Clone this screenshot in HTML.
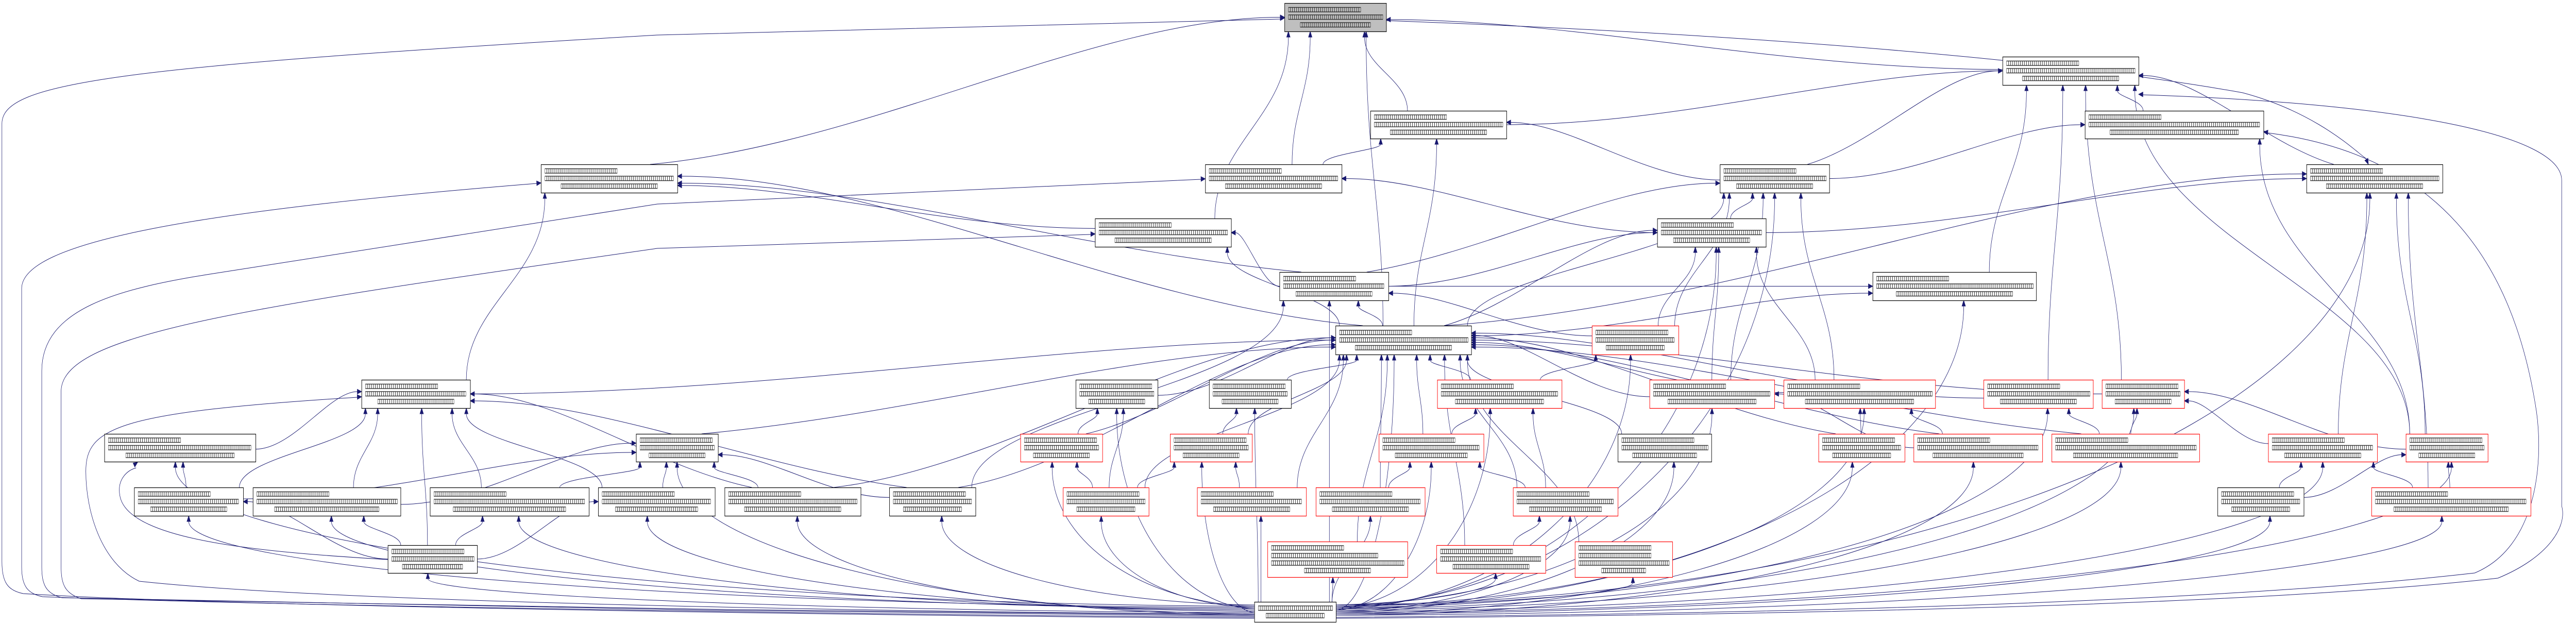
<!DOCTYPE html>
<html><head><meta charset="utf-8">
<style>
html,body{margin:0;padding:0;background:#fff;width:100vw;height:100vh;overflow:hidden;}
svg{display:block;overflow:hidden;width:100vw;height:100vh;}
text{font-family:"DejaVu Sans Mono","Liberation Mono",monospace;font-size:8.6px;fill:#111;stroke:#333;stroke-width:0.25;}
</style></head>
<body>
<svg id="g" viewBox="0 0 6662 1211" preserveAspectRatio="none" xmlns="http://www.w3.org/2000/svg"></svg>
<script>
const N={
Top:[3322,6,3585,61,'g'],AA:[5179,110,5531,165,'b'],W:[3544,215,3896,269,'b'],AB:[5392,215,5854,269,'b'],
A:[1399,319,1752,374,'b'],J:[3117,319,3470,374,'b'],X:[4448,319,4731,374,'b'],AC:[5965,319,6317,374,'b'],
K:[2832,424,3184,479,'b'],Y:[4286,424,4567,479,'b'],L:[3309,528,3591,583,'b'],Z:[4843,528,5266,583,'b'],
Hub:[3454,632,3805,688,'b'],R1:[4117,632,4341,688,'r'],
B:[935,737,1216,792,'b'],M:[2782,737,2994,792,'b'],N:[3127,737,3339,792,'b'],R2:[3717,737,4039,792,'r'],
R3:[4266,737,4589,792,'r'],R4:[4613,737,5005,792,'r'],AD:[5130,737,5413,792,'r'],AE:[5436,737,5649,792,'r'],
C:[270,842,661,896,'b'],I:[1645,842,1857,896,'b'],O:[2639,842,2851,896,'r'],P:[3026,842,3238,896,'r'],
R5:[3566,842,3837,896,'r'],S2:[4184,842,4426,896,'b'],R6:[4703,842,4926,896,'r'],R7:[4949,842,5282,896,'r'],
AF:[5306,842,5688,896,'r'],AG:[5866,842,6148,896,'r'],AH:[6222,842,6434,896,'r'],
D:[347,946,629,1001,'b'],E:[654,946,1036,1001,'b'],F:[1112,946,1523,1001,'b'],G:[1547,946,1849,1001,'b'],
R:[1874,946,2226,1001,'b'],S:[2300,946,2523,1001,'b'],T:[2749,946,2971,1001,'r'],U:[3096,946,3378,1001,'r'],
R9:[3403,946,3685,1001,'r'],R10:[3913,946,4184,1001,'r'],AI:[5735,946,5958,1001,'b'],AJ:[6133,946,6545,1001,'r'],
H:[1003,1058,1234,1112,'b'],V:[3278,1051,3640,1120,'r'],R12:[3715,1058,3997,1112,'r'],R13:[4073,1051,4325,1120,'r'],
BOT:[3244,1168,3455,1207,'b']
};
const NS="http://www.w3.org/2000/svg";
const svg=document.getElementById('g');
const gE=document.createElementNS(NS,'g');svg.appendChild(gE);
const gN=document.createElementNS(NS,'g');svg.appendChild(gN);
const COL="#191970";
function el(t,a,p){const e=document.createElementNS(NS,t);for(const k in a)e.setAttribute(k,a[k]);(p||gE).appendChild(e);return e;}
function clamp(v,a,b){return Math.max(a,Math.min(b,v));}
function P(n){n=N[n];return{x1:n[0],y1:n[1],x2:n[2],y2:n[3],cx:(n[0]+n[2])/2,cy:(n[1]+n[3])/2};}
function arrow(ex,ey,fx,fy){
  let dx=ex-fx,dy=ey-fy;const L=Math.hypot(dx,dy)||1;dx/=L;dy/=L;
  const al=11,aw=4.5;const bx=ex-dx*al,by=ey-dy*al;
  el('polygon',{points:`${ex},${ey} ${bx-dy*aw},${by+dx*aw} ${bx+dy*aw},${by-dx*aw}`,fill:COL,stroke:COL,'stroke-width':1});
  return [bx,by];
}
function curve(sx,sy,c1x,c1y,c2x,c2y,ex,ey){
  const [bx,by]=arrow(ex,ey,c2x,c2y);
  el('path',{d:`M${sx},${sy} C${c1x},${c1y} ${c2x},${c2y} ${bx},${by}`,fill:'none',stroke:COL,'stroke-width':1});
}
const cnt={};
function edge(ci,pi){
  const c=P(ci),p=P(pi);
  const k=(cnt[pi]=(cnt[pi]||0)+1);const off=((k*3)%7-3)*9;
  const gap=Math.max(c.x1-p.x2,p.x1-c.x2);const dy=c.y1-p.y2;
  let sx,sy,ex,ey,c1x,c1y,c2x,c2y;
  if(dy>0&&gap<dy*2.5){
    ex=clamp(p.cx+(c.cx-p.cx)*0.35+off,p.x1+10,p.x2-10);ey=p.y2;
    sx=clamp(c.cx+(p.cx-c.cx)*0.3,c.x1+10,c.x2-10);sy=c.y1;
    const d=sy-ey;c1x=sx;c1y=sy-d*0.4;c2x=ex;c2y=ey+d*0.45;
  }else{
    const left=c.cx<p.cx;
    ex=left?p.x1:p.x2;ey=clamp(p.cy+off*0.5,p.y1+6,p.y2-6);
    if(dy>150){sx=clamp(c.cx+(left?1:-1)*(c.x2-c.x1)*0.3,c.x1+10,c.x2-10);sy=c.y1;}
    else{sx=left?c.x2:c.x1;sy=clamp(c.cy-off*0.3,c.y1+5,c.y2-5);}
    const d=ex-sx;c1x=sx+d*0.35;c1y=sy-(dy>150?40:0);c2x=ex-d*0.3;c2y=ey;
  }
  curve(sx,sy,c1x,c1y,c2x,c2y,ex,ey);
}
let bk=0;
function bot(pi){
  const b=P('BOT'),p=P(pi);bk++;
  const j=(bk%9)*2.5;
  let sx,sy,ex=clamp(p.cx+((bk%5)-2)*12,p.x1+10,p.x2-10),ey=p.y2;
  if(p.x2<b.x1+20){sx=b.x1;sy=1174+j;}
  else if(p.x1>b.x2-20){sx=b.x2;sy=1174+j;}
  else{sx=clamp(ex,b.x1+10,b.x2-10);sy=b.y1;
    const d=sy-ey;curve(sx,sy,sx,sy-d*0.4,ex,ey+d*0.4,ex,ey);return;}
  curve(sx,sy,ex+(sx-ex)*0.45,sy-4,ex,ey+(sy-ey)*0.55,ex,ey);
}
function custom(d,ex,ey,fx,fy){
  arrow(ex,ey,fx,fy);
  el('path',{d:d,fill:'none',stroke:COL,'stroke-width':1});
}
custom("M3244,1200 C2400,1196 600,1178 60,1152 C20,1146 5,1130 5,1090 L5,240 C5,160 300,130 1700,68 L3311,37",3322,35,1700,68);
custom("M3244,1198 C2400,1194 700,1176 110,1158 C70,1152 56,1136 56,1100 L56,560 C56,470 500,410 1388,356",1399,355,500,410);
custom("M3244,1196 C2400,1192 800,1174 160,1160 C120,1152 108,1136 108,1100 L108,720 C108,600 300,560 560,530 L1700,396 L3106,348",3117,347,1700,396);
custom("M3244,1194 C2400,1190 800,1172 210,1162 C170,1152 158,1136 158,1100 L158,760 C158,650 600,600 1700,482 L2821,455",2832,454,1700,482);
custom("M3244,1192 C2400,1188 900,1172 360,1128 C260,1092 222,990 222,915 C222,830 300,800 924,771",935,770,300,800);
custom("M1003,1086 C700,1072 330,1052 310,962 C302,930 330,912 352,908",356,897,330,912);
custom("M3455,1200 C4500,1194 5800,1178 6460,1122 C6590,1082 6640,1022 6625,982 L6625,350 C6625,260 6200,200 5542,184",5531,183,6200,200);
custom("M3455,1198 C4500,1192 5700,1172 6400,1112 C6560,1062 6578,900 6560,800 C6500,500 6300,300 5866,258",5854,256,6300,300);
custom("M3585,40 C4300,60 5200,100 5800,180 C6000,220 6100,300 6120,308",6125,319,6110,290);
const pairs=[
['A','Top'],['K','Top'],['J','Top'],['Hub','Top'],['W','Top'],['AA','Top'],
['J','W'],['Hub','W'],['X','W'],['W','AA'],
['AB','AA'],['Z','AA'],['AC','AA'],['AH','AA'],['AD','AA'],['AE','AA'],['X','AA'],
['Y','AC'],['X','AB'],['AG','AC'],['AH','AC'],['AJ','AC'],['Hub','AC'],['AH','AB'],
['L','K'],['Hub','K'],['Y','J'],['B','A'],['K','A'],['Hub','A'],['L','A'],
['Y','X'],['R3','X'],['R4','X'],['L','X'],['Hub','X'],['R1','X'],
['L','Y'],['R1','Y'],['Hub','Y'],['R3','Y'],['R4','Y'],
['L','Z'],['Hub','Z'],['Hub','L'],['R1','L'],['S','L'],
['B','Hub'],['I','Hub'],['M','Hub'],['N','Hub'],['R2','Hub'],['R5','Hub'],['R9','Hub'],['R10','Hub'],['R12','Hub'],['R13','Hub'],['V','Hub'],['U','Hub'],['S2','Hub'],['T','Hub'],['O','Hub'],['P','Hub'],['R','Hub'],['S','Hub'],['R3','Hub'],['R4','Hub'],['AD','Hub'],['AE','Hub'],['AF','Hub'],['R6','Hub'],['R7','Hub'],
['R2','R1'],['R5','R2'],['R10','R2'],['R9','R5'],['R10','R5'],['R12','R10'],
['O','M'],['T','M'],['P','N'],['T','P'],['U','P'],['T','O'],
['R','I'],['S','I'],['G','I'],['D','I'],['E','I'],['F','I'],
['R','B'],['S','B'],['C','B'],['D','B'],['E','B'],['F','B'],['G','B'],['H','B'],
['D','C'],['H','D'],['H','E'],['H','F'],['H','G'],
['AF','AD'],['AF','AE'],['AG','AE'],['AH','AE'],['AI','AG'],['AJ','AG'],['AJ','AH'],['AI','AH'],
['R6','R4'],['R7','R4'],['R7','R3']];
pairs.forEach(e=>edge(e[0],e[1]));
['C','D','E','F','G','H','I','R','S','O','T','M','N','U','P','V','R9','R12','R13','R2','R1','R5','R10','S2','R6','R7','R3','R4','AD','AE','AF','AG','AH','AI','AJ','AC','X','Y','Z','Hub','L'].forEach(bot);
const GW=5.2;
function tline(x,y,w,anchorMid,x1,x2){
  const n=Math.max(3,Math.round(w/GW));const tw=n*GW;
  const tx=anchorMid?((x1+x2)/2-tw/2):x;
  const t=el('text',{transform:`translate(${tx.toFixed(1)},${y.toFixed(1)}) scale(1,1.9)`,x:0,y:0,textLength:tw.toFixed(1),lengthAdjust:'spacingAndGlyphs'},gN);
  t.textContent='□'.repeat(n);
}
for(const k in N){
  const [x1,y1,x2,y2,t]=N[k];
  el('rect',{x:x1+0.5,y:y1+0.5,width:x2-x1,height:y2-y1,fill:t==='g'?'#bfbfbf':'#fff',stroke:t==='r'?'#ff0000':'#000','stroke-width':1.2},gN);
  const w=x2-x1-20,h=y2-y1;
  const nl=h>62?4:(h<45?2:3);
  const top=y1+(h-nl*14.7)/2+11.5;
  if(nl===2){tline(x1+10,top,w,false,x1,x2);tline(0,top+14.7,w*0.8,true,x1,x2);}
  else if(nl===3){tline(x1+10,top,Math.min(w,187),false,x1,x2);tline(x1+10,top+14.7,w,false,x1,x2);tline(0,top+29.4,w*0.75,true,x1,x2);}
  else{tline(x1+10,top,Math.min(w,187),false,x1,x2);tline(x1+10,top+14.7,w*0.8,false,x1,x2);tline(x1+10,top+29.4,w,false,x1,x2);tline(0,top+44.1,w*0.5,true,x1,x2);}
}
</script>
</body></html>
